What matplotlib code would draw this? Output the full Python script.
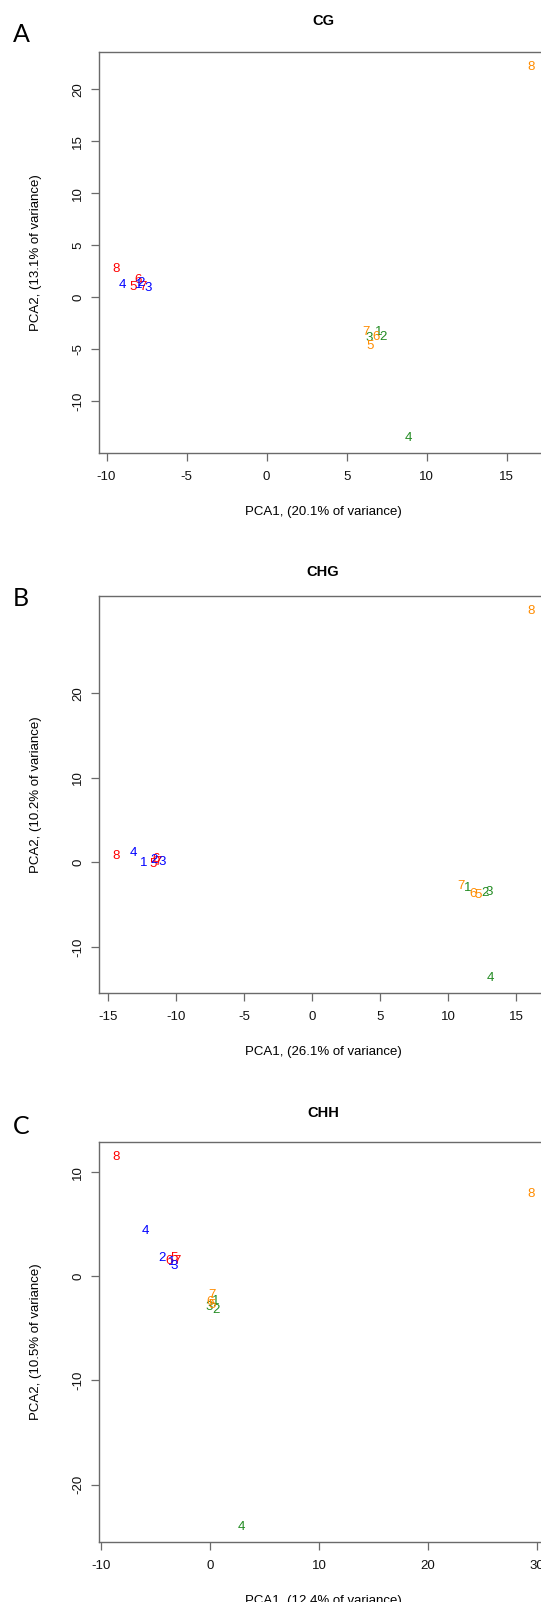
import matplotlib
matplotlib.use("Agg")
import matplotlib.pyplot as plt

plt.rcParams['font.family'] = ['Liberation Sans', 'DejaVu Sans']
plt.rcParams['axes.unicode_minus'] = False

# sample colours (R-style named colours)
RED, BLUE, GREEN, ORANGE = '#FF0000', '#0000FF', '#228B22', '#FF8C00'

# ---- CG ----
cg_red_lab = ['5', '6', '7', '8']
cg_red_x = [-8.34, -8.05, -7.70, -9.43]
cg_red_y = [1.0, 1.7, 1.0, 2.7]
cg_blue_lab = ['1', '2', '3', '4']
cg_blue_x = [-8.00, -7.85, -7.40, -8.98]
cg_blue_y = [1.2, 1.35, 0.9, 1.2]
cg_green_lab = ['1', '2', '3', '4']
cg_green_x = [7.01, 7.29, 6.38, 8.88]
cg_green_y = [-3.35, -3.85, -3.95, -13.53]
cg_orange_lab = ['5', '6', '7', '8']
cg_orange_x = [6.46, 6.81, 6.21, 16.53]
cg_orange_y = [-4.7, -3.85, -3.35, 22.16]
cg_xticks = [-10, -5, 0, 5, 10, 15]
cg_yticks = [-10, -5, 0, 5, 10, 15, 20]

# ---- CHG ----
chg_red_lab = ['5', '6', '7', '8']
chg_red_x = [-11.70, -11.45, -11.30, -14.43]
chg_red_y = [-0.2, 0.35, 0.1, 0.71]
chg_blue_lab = ['1', '2', '3', '4']
chg_blue_x = [-12.34, -11.60, -11.02, -13.10]
chg_blue_y = [-0.11, 0.25, 0.1, 1.12]
chg_green_lab = ['1', '2', '3', '4']
chg_green_x = [11.43, 12.71, 13.06, 13.11]
chg_green_y = [-3.0, -3.6, -3.55, -13.7]
chg_orange_lab = ['5', '6', '7', '8']
chg_orange_x = [12.25, 11.87, 10.97, 16.13]
chg_orange_y = [-3.8, -3.7, -2.8, 29.76]
chg_xticks = [-15, -10, -5, 0, 5, 10, 15]
chg_yticks = [-10, 0, 10, 20]

# ---- CHH ----
chh_red_lab = ['5', '6', '7', '8']
chh_red_x = [-3.30, -3.70, -3.00, -8.63]
chh_red_y = [1.8, 1.5, 1.5, 11.5]
chh_blue_lab = ['1', '2', '3', '4']
chh_blue_x = [-3.50, -4.40, -3.30, -5.90]
chh_blue_y = [1.4, 1.8, 1.0, 4.4]
chh_green_lab = ['1', '2', '3', '4']
chh_green_x = [0.55, 0.55, -0.10, 2.86]
chh_green_y = [-2.4, -3.2, -2.9, -24.1]
chh_orange_lab = ['5', '6', '7', '8']
chh_orange_x = [0.20, 0.05, 0.20, 29.46]
chh_orange_y = [-2.7, -2.5, -1.8, 7.9]
chh_xticks = [-10, 0, 10, 20, 30]
chh_yticks = [-20, -10, 0, 10]

panels = [
    dict(letter='A', title='CG',
         xlabel='PCA1, (20.1% of variance)', ylabel='PCA2, (13.1% of variance)',
         xticks=cg_xticks, yticks=cg_yticks, top=52, bottom=453,
         title_y=21, letter_y=34,
         groups=[(cg_red_x, cg_red_y, cg_red_lab, RED),
                 (cg_blue_x, cg_blue_y, cg_blue_lab, BLUE),
                 (cg_green_x, cg_green_y, cg_green_lab, GREEN),
                 (cg_orange_x, cg_orange_y, cg_orange_lab, ORANGE)]),
    dict(letter='B', title='CHG',
         xlabel='PCA1, (26.1% of variance)', ylabel='PCA2, (10.2% of variance)',
         xticks=chg_xticks, yticks=chg_yticks, top=596, bottom=993,
         title_y=572, letter_y=598,
         groups=[(chg_red_x, chg_red_y, chg_red_lab, RED),
                 (chg_blue_x, chg_blue_y, chg_blue_lab, BLUE),
                 (chg_green_x, chg_green_y, chg_green_lab, GREEN),
                 (chg_orange_x, chg_orange_y, chg_orange_lab, ORANGE)]),
    dict(letter='C', title='CHH',
         xlabel='PCA1, (12.4% of variance)', ylabel='PCA2, (10.5% of variance)',
         xticks=chh_xticks, yticks=chh_yticks, top=1142, bottom=1542,
         title_y=1113, letter_y=1126,
         groups=[(chh_red_x, chh_red_y, chh_red_lab, RED),
                 (chh_blue_x, chh_blue_y, chh_blue_lab, BLUE),
                 (chh_green_x, chh_green_y, chh_green_lab, GREEN),
                 (chh_orange_x, chh_orange_y, chh_orange_lab, ORANGE)]),
]

W, H = 541, 1602
fig = plt.figure(figsize=(W / 100, H / 100), dpi=100)
left_px, right_px = 99, 548
AX_COL = '#6a6a6a'
FS = 9.5

for p in panels:
    ax = fig.add_axes([left_px / W, 1 - p['bottom'] / H,
                       (right_px - left_px) / W, (p['bottom'] - p['top']) / H])
    xs, ys = [], []
    for gx, gy, glab, col in p['groups']:
        for x, y, lab in zip(gx, gy, glab):
            ax.text(x, y, lab, color=col, fontsize=FS, ha='center', va='center')
        xs += gx
        ys += gy
    # R-style 4% extension of the data range
    xr = max(xs) - min(xs)
    yr = max(ys) - min(ys)
    ax.set_xlim(min(xs) - 0.04 * xr, max(xs) + 0.04 * xr)
    ax.set_ylim(min(ys) - 0.04 * yr, max(ys) + 0.04 * yr)
    ax.set_xticks(p['xticks'])
    ax.set_yticks(p['yticks'])
    for s in ax.spines.values():
        s.set_color(AX_COL)
        s.set_linewidth(1.0)
    ax.tick_params(direction='out', length=5.8, width=0.9, color=AX_COL,
                   labelsize=FS, labelcolor='#111111')
    ax.tick_params(axis='x', pad=7.5)
    ax.tick_params(axis='y', pad=5)
    for t in ax.get_yticklabels():
        t.set_rotation(90)
        t.set_va('center')

    mid_y = 1 - (p['top'] + p['bottom']) / 2 / H
    fig.text(323 / W, 1 - p['title_y'] / H, p['title'], fontsize=10.5,
             fontweight='bold', ha='center', va='center')
    fig.text(21 / W, 1 - p['letter_y'] / H, p['letter'], fontsize=18,
             ha='center', va='center', family=['Lato', 'DejaVu Sans'])
    fig.text(323 / W, 1 - (p['bottom'] + 59) / H, p['xlabel'], fontsize=FS,
             ha='center', va='center')
    fig.text(36 / W, mid_y, p['ylabel'], fontsize=FS, rotation=90,
             ha='center', va='center')

fig.savefig('out.png', dpi=100)
